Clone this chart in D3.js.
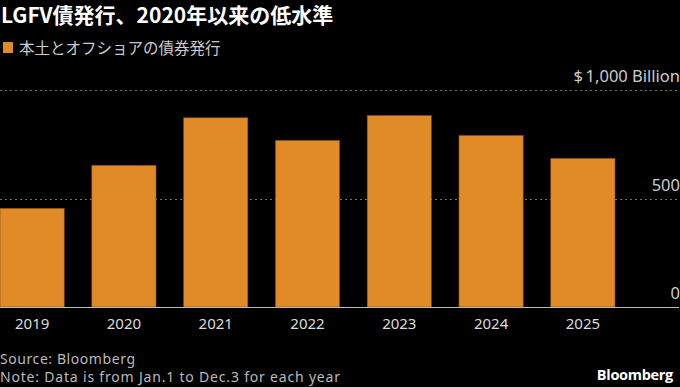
<!DOCTYPE html>
<html><head><meta charset="utf-8">
<script src="https://cdn.jsdelivr.net/npm/d3@7"></script>
<style>
html,body{margin:0;padding:0;background:#000;}
svg{display:block;}
</style></head>
<body>
<svg id="c" width="680" height="387"></svg>
<script>
const categories = ["2019","2020","2021","2022","2023","2024","2025"];
const values = [455, 653, 872, 768, 883, 791, 685];
const tickValues = [0, 500, 1000];
const tickLabels = ["0", "500", "$\u20091,000 Billion"];
const title = "LGFV債発行、2020年以来の低水準";
const seriesName = "本土とオフショアの債券発行";
const source = "Source: Bloomberg";
const note = "Note: Data is from Jan.1 to Dec.3 for each year";

const svg = d3.select("#c");
const W = 680, H = 387;
svg.append("rect").attr("width", W).attr("height", H).attr("fill", "#000");

const x = d3.scaleBand().domain(categories).range([0, 615]).paddingInner(0.3).paddingOuter(0);
const y = d3.scaleLinear().domain([0, 1000]).range([307, 90]);

const cjk = "'Noto Sans CJK JP','Noto Sans',sans-serif";
const sans = "'Noto Sans','DejaVu Sans',sans-serif";

// title
svg.append("text").attr("x", 1).attr("y", 23).attr("fill", "#fff")
  .attr("font-family", cjk).attr("font-weight", "bold").attr("font-size", 21)
  .text(title);

// legend
svg.append("rect").attr("x", 3).attr("y", 42).attr("width", 10).attr("height", 11).attr("fill", "#E08B28");
svg.append("text").attr("x", 19).attr("y", 54).attr("fill", "#ccc")
  .attr("font-family", cjk).attr("font-size", 15.5).text(seriesName);

// gridlines
svg.append("g").selectAll("line").data(tickValues.filter(d => d > 0)).join("line")
  .attr("x1", 0).attr("x2", W).attr("y1", d => Math.round(y(d)) + 0.5).attr("y2", d => Math.round(y(d)) + 0.5)
  .attr("stroke", "#777").attr("stroke-width", 1).attr("stroke-dasharray", "2,3");

// bars
svg.append("g").selectAll("rect").data(values).join("rect")
  .attr("x", (d, i) => x(categories[i]))
  .attr("width", x.bandwidth())
  .attr("y", d => y(d))
  .attr("height", d => y(0) - y(d))
  .attr("fill", "#E08B28")
  .attr("stroke", "#7a4a12").attr("stroke-width", 0.6);

// baseline
svg.append("line").attr("x1", 0).attr("x2", 679).attr("y1", 307.5).attr("y2", 307.5)
  .attr("stroke", "#bbb").attr("stroke-width", 1.2);

// y axis labels (right)
const yAxis = d3.axisRight(y).tickValues(tickValues).tickSize(0).tickFormat((d, i) => tickLabels[i]);
const ga = svg.append("g").attr("transform", "translate(680,0)").call(yAxis);
ga.select(".domain").remove();
ga.selectAll("text").attr("x", 0).attr("dy", "-0.5em").attr("text-anchor", "end")
  .attr("fill", "#ccc").attr("font-family", sans).attr("font-size", 16.5);

// x axis labels
const xAxis = d3.axisBottom(x).tickSize(0);
const gx = svg.append("g").attr("transform", "translate(0,307)").call(xAxis);
gx.select(".domain").remove();
gx.selectAll("text").attr("y", 11).attr("dy", "0.71em").attr("fill", "#ddd")
  .attr("font-family", sans).attr("font-size", 15);

// footer
svg.append("text").attr("x", 0).attr("y", 364).attr("fill", "#bbb")
  .attr("font-family", sans).attr("font-size", 14).attr("textLength", 135).text(source);
svg.append("text").attr("x", 0).attr("y", 382).attr("fill", "#bbb")
  .attr("font-family", sans).attr("font-size", 14).attr("textLength", 340).text(note);
svg.append("text").attr("x", 673).attr("y", 380).attr("text-anchor", "end").attr("fill", "#fff")
  .attr("font-family", "'Open Sans','Noto Sans',sans-serif").attr("font-weight", "bold").attr("font-size", 14.5)
  .attr("letter-spacing", -0.3).text("Bloomberg");
</script>
</body></html>
